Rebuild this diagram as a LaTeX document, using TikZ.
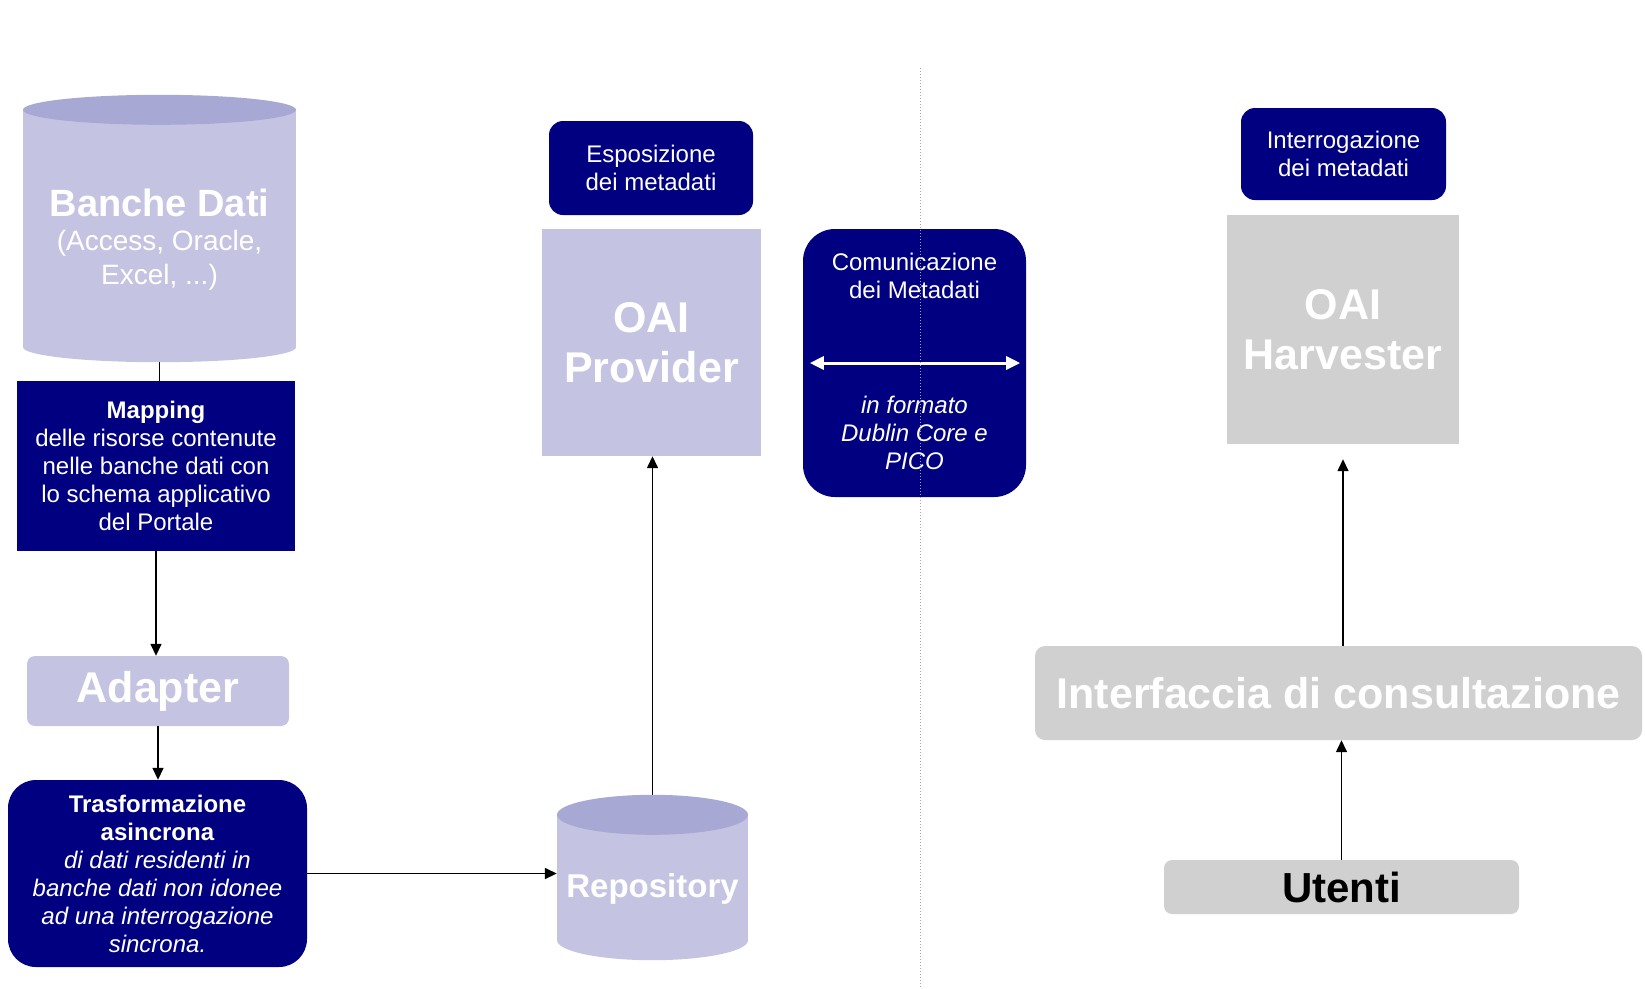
\documentclass[tikz,border=0pt]{standalone}
\usepackage{fontspec}
\setmainfont{Liberation Sans}
\usepackage{tikz}
\usetikzlibrary{
  arrows.meta,
  positioning,
  calc
}

\definecolor{lavbody}{RGB}{196,196,226}
\definecolor{lavtop}{RGB}{168,168,212}
\definecolor{navyfill}{RGB}{0,0,128}
\definecolor{greyfill}{RGB}{208,208,208}

\begin{document}
\begin{tikzpicture}[
      x=1pt, y=-1pt,
      every node/.style={text=white, align=center, inner sep=0pt},
      darkbox/.style={fill=navyfill, font=\fontsize{24}{28}\selectfont},
      darkround/.style={darkbox, rounded corners=14pt},
      lavbox/.style={fill=lavbody, font=\fontsize{43}{50}\selectfont\bfseries},
      greybox/.style={fill=greyfill, rounded corners=10pt,
                      font=\fontsize{43}{50}\selectfont\bfseries},
      link/.style={line width=1.5pt, -{Triangle[length=12pt,width=11pt]}},
      plainlink/.style={line width=1.5pt}
  ]
      \useasboundingbox (0,0) rectangle (1645,988);

      % Colonna sinistra: banche dati e trasformazione
      \node[fill=lavbody, minimum width=273pt, minimum height=237pt] (db) at (159.5,228.5) {};
      \node[font=\fontsize{28}{34}\selectfont] (dbtxt) at (159.5,240) {%
          {\fontsize{38}{44}\selectfont\bfseries Banche Dati}\\
          (Access, Oracle,\\
          Excel, ...)};
      \node[darkbox, minimum width=278pt, minimum height=170pt] (map) at (156,466) {
          \textbf{Mapping}\\
          delle risorse contenute\\
          nelle banche dati con\\
          lo schema applicativo\\
          del Portale
      };
      \node[lavbox, rounded corners=8pt, minimum width=262pt, minimum height=70pt] (adapter) at (158,691) {Adapter};
      \node[darkbox, rounded corners=28pt, minimum width=299pt, minimum height=187pt] (trasf) at (157.5,873.5) {
          \textbf{Trasformazione}\\
          \textbf{asincrona}\\
          \textit{di dati residenti in}\\
          \textit{banche dati non idonee}\\
          \textit{ad una interrogazione}\\
          \textit{sincrona.}
      };

      % Colonna centrale: repository e provider
      \node[fill=lavbody, minimum width=191pt, minimum height=125pt] (repo) at (652.5,877.5) {};
      \node[font=\fontsize{33}{38}\selectfont\bfseries] (repotxt) at (652.5,889) {Repository};
      \node[lavbox, minimum width=219pt, minimum height=227pt] (prov) at (651.5,342.5) {OAI\\Provider};
      \node[darkround, minimum width=204pt, minimum height=94pt] (expo) at (651,168) {Esposizione\\dei metadati};

      % Comunicazione
      \node[darkbox, rounded corners=32pt, minimum width=223pt, minimum height=268pt] (com) at (914.5,363) {};
      \node[font=\fontsize{24}{28}\selectfont] (comtop) at (914.5,276) {Comunicazione\\dei Metadati};
      \node[font=\fontsize{24}{28}\selectfont\itshape] (combot) at (914.5,433) {in formato\\Dublin Core e\\PICO};

      % Colonna destra: harvester e utenti
      \node[darkround, minimum width=205pt, minimum height=92pt] (query) at (1343.5,154) {Interrogazione\\dei metadati};
      \node[greybox, rounded corners=0pt, minimum width=232pt, minimum height=229pt] (harv) at (1343,329.5) {OAI\\Harvester};
      \node[greybox, minimum width=607pt, minimum height=94pt] (gui) at (1338.5,693) {Interfaccia di consultazione};
      \node[greybox, text=black, rounded corners=8pt, font=\fontsize{42}{48}\selectfont\bfseries,
            minimum width=355pt, minimum height=54pt] (users) at (1341.5,887) {Utenti};

      % Collegamenti
      \draw[plainlink] (db.south) -- (db.south |- map.north);
      \draw[link] (map.south) -- (map.south |- adapter.north);
      \draw[link] (adapter.south) -- (adapter.south |- trasf.north);
      \draw[link] (trasf.east) -- (trasf.east -| repo.west);
      \draw[link] (repo.north) -- (repo.north |- prov.south);
      \draw[link] (gui.north -| harv.south) -- ([yshift=-15pt]harv.south);
      \draw[link] (users.north) -- (users.north |- gui.south);
      \draw[white, line width=3pt, {Triangle[length=14pt,width=13pt]}-{Triangle[length=14pt,width=13pt]}]
          ([xshift=7pt]com.west) -- ([xshift=-6pt]com.east);

      % Estremi dei cilindri
      \fill[lavbody] (db.south) ellipse [x radius=136.5, y radius=15];
      \fill[lavtop] (db.north) ellipse [x radius=136.5, y radius=15];
      \fill[lavbody] (repo.south) ellipse [x radius=95.5, y radius=20];
      \fill[lavtop] (repo.north) ellipse [x radius=95.5, y radius=20];

      % Separatore
      \coordinate (septop) at (920,68);
      \coordinate (sepbot) at (920,988);
      \draw[gray!70, line width=1pt, dash pattern=on 1pt off 2pt] (septop) -- (sepbot);
  \end{tikzpicture}
\end{document}
